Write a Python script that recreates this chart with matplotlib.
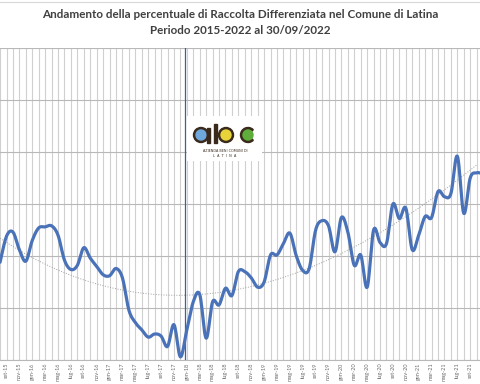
import numpy as np
import matplotlib
matplotlib.use("Agg")
import matplotlib.pyplot as plt
from matplotlib.lines import Line2D
from matplotlib.patches import Circle, Rectangle, Wedge

# monthly share of separated waste (%), from ago-15 onward
month_names = ["gen", "feb", "mar", "apr", "mag", "giu",
               "lug", "ago", "set", "ott", "nov", "dic"]
first_month = (2015, 8)  # ago-15

raccolta = [29.4, 31.9, 32.3, 30.6, 29.5, 31.5, 32.7, 32.8, 32.9, 32.0,
            29.6, 28.7, 29.1, 30.8, 29.8, 29.0, 28.2, 28.1, 28.8, 27.9,
            24.8, 23.6, 22.9, 22.2, 22.5, 22.3, 21.3, 23.4, 20.3, 22.9,
            25.6, 26.3, 22.1, 25.6, 25.3, 26.9, 26.2, 28.5, 28.5, 27.9,
            27.0, 27.5, 30.1, 30.1, 31.2, 32.2, 30.0, 28.6, 28.8, 32.5,
            33.4, 32.9, 30.4, 33.7, 32.3, 29.1, 30.1, 27.0, 32.5, 31.3,
            31.2, 35.0, 33.6, 34.6, 30.6, 32.0, 33.8, 33.7, 36.2, 35.7,
            36.0, 39.6, 34.1, 37.5, 38.0, 37.9]

# dotted trend line read at a few months (index in the month list)
trend_idx = [0, 5, 10, 16, 21, 26, 31, 37, 42, 48, 53, 56, 61, 67, 74]
trend_val = [31.8, 29.7, 28.4, 27.1, 26.6, 26.3, 26.3, 26.9, 27.5, 28.8,
             30.0, 31.1, 33.2, 35.7, 38.6]

start_abc = "gen-18"


def month_labels(n):
    y, m = first_month
    out = []
    for _ in range(n):
        out.append(f"{month_names[m - 1]}-{y % 100:02d}")
        m += 1
        if m > 12:
            m, y = 1, y + 1
    return out


def smooth(x, y, steps=12):
    # catmull-rom through the points, like excel's smoothed line
    x = np.asarray(x, float)
    y = np.asarray(y, float)
    px = np.concatenate([[x[0]], x, [x[-1]]])
    py = np.concatenate([[y[0]], y, [y[-1]]])
    t = np.linspace(0, 1, steps, endpoint=False)[:, None]
    out = []
    for p in (px, py):
        p0, p1, p2, p3 = p[:-3], p[1:-2], p[2:-1], p[3:]
        seg = 0.5 * (2 * p1 + (p2 - p0) * t
                     + (2 * p0 - 5 * p1 + 4 * p2 - p3) * t ** 2
                     + (3 * p1 - p0 - 3 * p2 + p3) * t ** 3)
        out.append(np.append(seg.T.ravel(), p[-2]))
    return out


labels = month_labels(len(raccolta))
xs = np.arange(len(raccolta))
x_right = 74.52

fig = plt.figure(figsize=(4.8, 3.84), dpi=100)
ax = fig.add_axes([0, 24 / 384, 1, 312 / 384])

sx, sy = smooth(xs, raccolta)
ax.plot(sx, sy, color="#4a72b8", lw=2.3, solid_capstyle="round", zorder=4)

coef = np.polyfit(trend_idx, trend_val, 3)
tx = np.linspace(trend_idx[0], trend_idx[-1], 300)
ax.plot(tx, np.polyval(coef, tx), color="#a0a0a0", lw=0.7, ls=":", zorder=3)

ax.axvline(labels.index(start_abc) - 0.3, color="#3d5f9e", lw=0.9, zorder=3)

ax.set_xlim(-0.01, x_right)
ax.set_ylim(20, 50)
ax.set_yticks(np.arange(20, 51, 5))
ax.set_yticklabels([])
shown = xs[xs < x_right]
ax.set_xticks(shown)
ax.set_xticklabels([labels[i] if i % 2 == 1 and i < 74 else "" for i in shown],
                   rotation=90, fontsize=4.0, color="#6a6a6a", family="Lato")
ax.tick_params(length=0, pad=2)
ax.grid(axis="x", color="#d0d0d0", lw=0.8, zorder=0)
ax.grid(axis="y", color="#b8b8b8", lw=0.8, zorder=1)
for side in ("left", "right", "top"):
    ax.spines[side].set_visible(False)
ax.spines["bottom"].set_color("#b8b8b8")

fig.text(0.5, 1 - 15 / 384,
         "Andamento della percentuale di Raccolta Differenziata nel Comune di Latina",
         ha="center", va="center", fontsize=8.4, fontweight="bold",
         family="Lato", color="#404040")
fig.text(0.5, 1 - 31 / 384, "Periodo 2015-2022 al 30/09/2022",
         ha="center", va="center", fontsize=8.4, fontweight="bold",
         family="Lato", color="#404040")
fig.add_artist(Line2D([0, 1], [1 - 2 / 384] * 2, color="#d9d9d9", lw=0.8))

# logo box, drawn in pixel coordinates
lg = fig.add_axes([187 / 480, 1 - 161 / 384, 75 / 480, 45 / 384])
lg.set_xlim(187, 262)
lg.set_ylim(161, 116)
lg.axis("off")
lg.add_patch(Rectangle((187, 116), 75, 45, color="white"))
brown = "#3a2a1c"
lg.add_patch(Circle((201, 135), 7.5, color=brown))
lg.add_patch(Circle((201, 135), 5, color="#6fa8dc"))
lg.add_patch(Rectangle((207, 128), 3, 14.5, color=brown))
lg.add_patch(Rectangle((214, 124), 3, 18.5, color=brown))
lg.add_patch(Circle((226, 135), 7.5, color=brown))
lg.add_patch(Circle((226, 135), 5, color="#e8d43a"))
lg.add_patch(Wedge((248, 135), 7.5, 45, 315, width=2.5, color=brown))
lg.add_patch(Circle((248, 135), 5, color="#5fae3c"))
lg.text(225, 151, "AZIENDA BENI COMUNI DI", ha="center", va="center",
        fontsize=2.4, color=brown)
lg.text(225, 156.5, "L  A  T  I  N  A", ha="center", va="center",
        fontsize=2.4, color=brown)

fig.savefig("out.png", dpi=100)
